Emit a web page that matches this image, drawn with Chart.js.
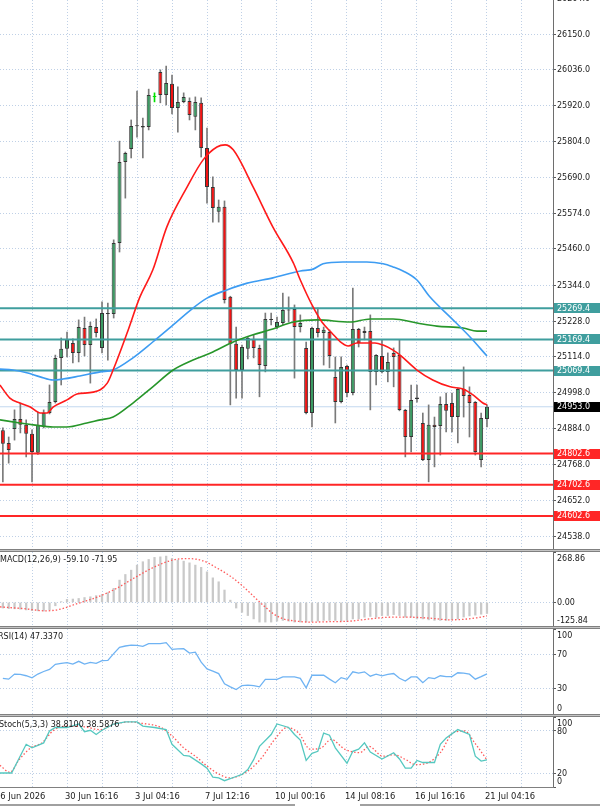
<!DOCTYPE html>
<html>
<head>
<meta charset="utf-8">
<script src="https://cdn.jsdelivr.net/npm/chart.js@4.4.1/dist/chart.umd.min.js"></script>
<style>
  html, body { margin: 0; padding: 0; background: #fff; }
  #wrap { position: relative; width: 600px; height: 807px; overflow: hidden; background: #fff; }
  #wrap canvas { position: absolute; left: 0; }
  .sep { position: absolute; left: 0; width: 600px; height: 1px; background: #c4c4c4;
         border-top: 1px solid #808080; border-bottom: 1px solid #808080; }
</style>
</head>
<body>
<div id="wrap">
  <canvas id="cMain" width="600" height="549" style="top:0"></canvas>
  <canvas id="cMacd" width="600" height="74" style="top:552px"></canvas>
  <canvas id="cRsi" width="600" height="85" style="top:629px"></canvas>
  <canvas id="cStoch" width="600" height="90" style="top:717px"></canvas>
  <div class="sep" style="top:549px"></div>
  <div class="sep" style="top:626px"></div>
  <div class="sep" style="top:714px"></div>
  <div style="position:absolute;left:0;top:787px;width:554px;height:1px;background:#808080"></div>
  <div style="position:absolute;left:0;top:804px;width:295px;height:2px;background:#a0a0a0"></div>
  <div style="position:absolute;left:360px;top:804px;width:240px;height:2px;background:#a0a0a0"></div>
</div>
<script>
/* Datos (velas, indicadores y niveles) */

// Velas: apertura, máximo, mínimo, cierre
const velaOpen = [24878, 24837, 24882, 24914, 24895, 24866, 24805, 24888, 24933, 24968,
  25110, 25139, 25158, 25126, 25206, 25151, 25209, 25142, 25254, 25251,
  25479, 25739, 25781, 25854, 25855, 25851, 25948, 26028, 25954, 25990,
  25912, 25932, 25935, 25884, 25929, 25784, 25659, 25579, 25595, 25306,
  25155, 25071, 25139, 25171, 25142, 25084, 25232, 25209, 25222, 25264,
  25267, 25209, 25142, 24933, 25206, 25190, 25193, 25049, 24968, 25084,
  24997, 25203, 25190, 25196, 25065, 25116, 25065, 25126, 25119, 24943,
  24856, 24978, 24901, 24782, 24895, 24891, 24962, 24965, 24920, 25010,
  24991, 24968, 24782, 24914];
const velaHigh = [24885, 24856, 24943, 24965, 24911, 24879, 24936, 24943, 25023, 25119,
  25174, 25193, 25171, 25232, 25241, 25225, 25235, 25290, 25286, 25489,
  25806, 25771, 25874, 25967, 25880, 25973, 25961, 26035, 26047, 26018,
  25980, 25961, 25945, 25948, 25945, 25848, 25691, 25617, 25614, 25308,
  25209, 25151, 25177, 25184, 25151, 25254, 25254, 25241, 25318, 25306,
  25280, 25248, 25161, 25209, 25270, 25209, 25200, 25113, 25113, 25087,
  25334, 25205, 25209, 25248, 25121, 25168, 25126, 25142, 25168, 24945,
  25023, 25023, 24933, 24959, 24920, 24985, 24997, 24997, 25013, 25081,
  25017, 24970, 24933, 24959];
const velaLow = [24712, 24772, 24846, 24869, 24792, 24712, 24800, 24885, 24930, 24965,
  25023, 25113, 25094, 25097, 25116, 25029, 25177, 25126, 25103, 25238,
  25450, 25623, 25752, 25819, 25752, 25842, 25932, 25929, 25922, 25893,
  25835, 25929, 25874, 25842, 25755, 25607, 25546, 25546, 25286, 24959,
  24981, 24981, 25107, 25110, 24985, 25065, 25216, 25203, 25216, 25225,
  25045, 25193, 24930, 24888, 25177, 25087, 25078, 24901, 24965, 24985,
  24991, 25145, 25168, 24943, 25023, 25062, 25033, 25017, 24940, 24792,
  24808, 24968, 24780, 24712, 24760, 24798, 24872, 24872, 24837, 24920,
  24856, 24798, 24760, 24888];
const velaClose = [24834, 24814, 24914, 24895, 24866, 24808, 24895, 24933, 24968, 25110,
  25139, 25168, 25126, 25209, 25151, 25212, 25190, 25254, 25251, 25479,
  25739, 25768, 25855, 25857, 25850, 25954, 25948, 25954, 25993, 25912,
  25932, 25948, 25890, 25932, 25784, 25659, 25591, 25595, 25296, 25155,
  25071, 25145, 25174, 25142, 25087, 25235, 25234, 25225, 25264, 25262,
  25209, 25222, 24933, 25206, 25190, 25200, 25116, 24968, 25081, 24997,
  25203, 25158, 25196, 25065, 25119, 25065, 25097, 25113, 24943, 24856,
  24975, 24983, 24782, 24895, 24888, 24962, 24940, 24920, 25010, 24988,
  24965, 24808, 24917, 24953];

// Medias móviles: pares [índice de vela, precio]
const mediaRapida = [[-0.5,25023],[1.2,24981],[2.9,24965],[4.7,24952],[6.4,24933],[7.6,24933],[8.6,24952],[11,24975],[12.7,24994],[15.5,25000],[17.9,25029],[18.9,25071],[21.3,25190],[23.5,25306],[25.7,25392],[28.1,25530],[31.6,25659],[34.3,25745],[36.7,25787],[38.1,25794],[39.5,25778],[42.9,25659],[46.3,25530],[49.8,25415],[51,25360],[53,25280],[54.7,25225],[56.4,25190],[58.1,25158],[59.2,25148],[60.7,25158],[63.8,25158],[65.2,25151],[66.9,25135],[68.1,25119],[71,25071],[73.7,25039],[76.7,25017],[78.9,25010],[80.6,24991],[82.3,24965],[83,24959]];
const mediaMedia = [[-0.5,24911],[2.9,24901],[5.2,24895],[8.6,24888],[11,24888],[14.4,24901],[16.7,24911],[18.9,24920],[22.3,24965],[25.7,25017],[29.2,25071],[32.6,25103],[36,25129],[39.5,25161],[42.9,25184],[45.8,25200],[49.8,25225],[53.9,25232],[59.5,25225],[63,25235],[66.9,25235],[71,25222],[74.4,25212],[78.9,25206],[81.3,25196],[83,25196]];
const mediaLenta = [[-0.5,25074],[1.7,25071],[4.1,25062],[6.4,25049],[8.6,25039],[10.3,25042],[13.2,25052],[16.7,25065],[18.9,25071],[22.3,25110],[25.7,25161],[29.2,25216],[32.6,25270],[35,25302],[38.4,25328],[41.9,25350],[46.3,25367],[51,25389],[53.2,25395],[54.9,25412],[58.3,25418],[62.4,25418],[65.2,25412],[66.9,25402],[68.6,25389],[71,25360],[73.2,25306],[76.7,25241],[80.1,25177],[83,25116]];

// Niveles horizontales
const nivelesResistencia = [25269.4, 25169.4, 25069.4];
const nivelesSoporte = [24802.6, 24702.6, 24602.6];
const precioActual = 24953.0;

// MACD (histograma por vela) y señal (pares)
const macdPrincipal = [-30, -33, -34, -36, -40, -44, -45, -46, -40, -18,
  4, 16, 18, 21, 26, 30, 36, 43, 52, 75,
  119, 149, 172, 199, 217, 229, 240, 243, 247, 235,
  226, 220, 211, 199, 187, 163, 131, 110, 66, 12,
  -30, -53, -70, -88, -105, -105, -105, -100, -96, -100,
  -105, -105, -105, -100, -100, -96, -96, -96, -100, -96,
  -88, -88, -79, -75, -79, -70, -70, -65, -70, -79,
  -79, -88, -88, -93, -96, -96, -96, -93, -88, -78,
  -72, -68, -63, -59.1];
const macdSenal = [[-0.5,-24],[3.5,-33],[7.4,-45],[10,-35],[12.6,-8],[15.9,25],[19.2,70],[22.5,130],[25.7,185],[29,225],[31.7,234],[34.3,222],[36.9,180],[39,140],[41.2,85],[42.9,35],[44.7,-17],[46.4,-61],[48.1,-88],[50.4,-100],[52.7,-105],[56,-103],[59.5,-100],[62.9,-88],[66.4,-79],[69.8,-79],[73.2,-84],[76.7,-93],[79,-90],[81.3,-82],[83,-72]];

// RSI(14) por vela
const rsiValores = [42, 41, 47, 46.5, 45, 42.5, 47, 50, 52.5, 58.5,
  59.5, 60.5, 58.8, 62, 58.8, 60.8, 59.6, 62.8, 63, 71,
  78.5, 80, 81, 80.8, 79.6, 82.8, 82.8, 82.8, 84, 76,
  76.5, 76.8, 71.6, 72.8, 61, 53, 50.5, 47.5, 35.6, 32,
  28.8, 33.5, 34, 33.5, 32, 40.8, 40.8, 40.8, 43.6, 43.6,
  43.6, 42, 30.8, 45.6, 45.6, 45.6, 41, 36.8, 42.8, 40.8,
  49.6, 48, 49.6, 44.5, 46.8, 44.8, 46.5, 47.6, 42, 38.8,
  43.6, 43.6, 36.8, 42.8, 41.6, 45, 44, 44, 48.5, 48,
  46.8, 41, 44, 47.3];

// Estocástico: pares [índice, valor]
const stochPrincipal = [[-0.5,20],[1.5,20],[4,61],[5,56],[7,63],[8,80],[9,85],[11,85],[13,90],[14,79],[15,81],[16,75],[17,81],[19,90],[21,93],[23,93],[24,87],[26,85],[28,82],[29,61],[31,45],[32,44],[34,33],[35,27],[36,14],[37,13],[38,9],[40,15],[41,18],[42,25],[43,39],[44,58],[46,75],[47,90],[49,85],[50,75],[51,67],[52,38],[53,48],[54,51],[55,77],[56,74],[57,56],[59,34],[60,51],[61,54],[62,63],[63,50],[65,40],[67,49],[68,40],[69,27],[70,27],[71,38],[72,35],[74,35],[75,61],[76,70],[78,82],[80,75],[81,44],[82,37],[83,38.81]];
const stochSenal = [[-0.5,31],[1.2,21],[2.8,39],[4.8,56],[6.7,63],[8.7,81],[11,87],[14,86],[16.6,82],[19.2,90],[21.8,93],[23.8,91],[27.1,85],[29,73],[31,56],[33,44],[35,30],[36.9,19],[38.9,13],[41.5,20],[44.1,39],[46.8,70],[48.7,85],[50.7,77],[52.7,54],[54.6,56],[56.3,68],[58.6,54],[61.2,49],[62.8,58],[65.1,44],[67.1,46],[69.1,39],[70.7,32],[73,35],[75,49],[77.3,78],[79.2,80],[80.9,63],[83,38.59]];

// Marcas de los ejes
const ticksPrecio = [24538, 24652, 24768, 24884, 24998, 25114, 25228, 25344, 25460, 25574, 25690, 25804, 25920, 26036, 26150, 26264];
const ticksMacd = [268.86, 0, -125.84];
const ticksRsi = [100, 70, 30, 0];
const ticksStoch = [100, 80, 20, 0];
const lineasGrillaX = [5, 11, 17, 23, 29, 35, 41, 47, 53, 59, 65, 71, 77, 83, 89];
const etiquetasTiempo = ['26 Jun 2026', '30 Jun 16:16', '3 Jul 04:16', '7 Jul 12:16', '10 Jul 00:16', '14 Jul 08:16', '16 Jul 16:16', '21 Jul 04:16'];
const posicionTiempo = [-1, 11, 23, 35, 47, 59, 71, 83];

/* Estilos comunes */
const FUENTE = '8px "DejaVu Sans"';
const GRILLA = '#bfd0e6';
const X_MIN = -0.49, X_MAX = 94.32;
const VERDE = '#3b9b63', ROJO = '#f21212', TEAL = '#3f9e9e', ROJO_NIVEL = '#ff2626';

// Eje X común (solo grilla punteada)
function ejeX() {
  return {
    type: 'linear', min: X_MIN, max: X_MAX, offset: false,
    grid: { color: GRILLA, lineWidth: 1, drawTicks: false, offset: false },
    border: { display: false, dash: [1, 2] },
    ticks: { display: false },
    afterBuildTicks: (s) => { s.ticks = lineasGrillaX.map(v => ({ value: v })); }
  };
}

// Eje Y a la derecha, 47 px de ancho
function ejeY(min, max, ticks, conGrilla) {
  return {
    type: 'linear', position: 'right', min: min, max: max,
    grid: {
      color: (c) => (conGrilla(c.tick && c.tick.value) ? GRILLA : 'rgba(0,0,0,0)'),
      lineWidth: 1, drawTicks: true, tickLength: 3, tickColor: '#5a5a5a', tickBorderDash: []
    },
    border: { display: true, color: '#6e6e6e', width: 1, dash: [1, 2] },
    ticks: { display: false },
    afterBuildTicks: (s) => { s.ticks = ticks.map(v => ({ value: v })); },
    afterFit: (s) => { s.width = 47; }
  };
}

// Plugin para textos: etiquetas de precio, títulos y fechas
const textos = {
  id: 'textos',
  afterDatasetsDraw(chart, args, o) {
    const ctx = chart.ctx, a = chart.chartArea, y = chart.scales.y, x = chart.scales.x;
    ctx.save();
    ctx.font = FUENTE;
    ctx.textBaseline = 'middle';
    ctx.textAlign = 'left';
    (o.etiquetas || []).forEach(l => {
      let py = y.getPixelForValue(l.value);
      if (o.limitar) py = Math.min(Math.max(py, a.top + 6), a.bottom - 5.5);
      if (l.bg) {
        ctx.fillStyle = l.bg;
        ctx.fillRect(a.right + 1, Math.round(py) - 5, 47, 10);
      }
      ctx.fillStyle = l.fg || '#1a1a1a';
      ctx.fillText(l.text, a.right + 4, py + 0.5);
    });
    if (o.titulo) {
      ctx.fillStyle = '#1a1a1a';
      ctx.fillText(o.titulo, o.tituloX, a.top + o.tituloY);
    }
    if (o.fechas) {
      ctx.font = '8.4px "DejaVu Sans"';
      ctx.fillStyle = '#1a1a1a';
      posicionTiempo.forEach((p, k) => {
        ctx.fillText(etiquetasTiempo[k], x.getPixelForValue(p) - 2, a.bottom + 9.5);
      });
    }
    ctx.restore();
  }
};

function lineaNivel(v, color, ancho, orden) {
  return {
    type: 'line', data: [{ x: -1, y: v }, { x: 95, y: v }],
    borderColor: color, borderWidth: ancho, pointRadius: 0, order: orden
  };
}

function lineaPares(pares, color, ancho, dash, orden) {
  return {
    type: 'line', data: pares.map(p => ({ x: p[0], y: p[1] })),
    borderColor: color, borderWidth: ancho, borderDash: dash, pointRadius: 0,
    cubicInterpolationMode: 'monotone', order: orden
  };
}

const opcionesBase = { responsive: false, animation: false, events: [],
  plugins: { legend: { display: false }, tooltip: { enabled: false } } };

/* Gráfico principal de velas */
const colorCuerpo = velaOpen.map((o, i) => velaClose[i] > o ? VERDE : (velaClose[i] < o ? ROJO : '#00e000'));
const colorMecha = velaOpen.map((o, i) => velaClose[i] === o ? '#00e000' : '#7a7a7a');

const etiquetasPrecio = ticksPrecio.map(v => ({ value: v, text: v.toFixed(1) }))
  .concat(nivelesResistencia.map(v => ({ value: v, text: v.toFixed(1), bg: TEAL, fg: '#fff' })))
  .concat(nivelesSoporte.map(v => ({ value: v, text: v.toFixed(1), bg: ROJO_NIVEL, fg: '#fff' })))
  .concat([{ value: precioActual, text: precioActual.toFixed(1), bg: '#000', fg: '#fff' }]);

new Chart(document.getElementById('cMain'), {
  type: 'line',
  data: {
    datasets: [
      lineaNivel(precioActual, '#c3d8ef', 1, 20),
      {
        type: 'bar', data: velaOpen.map((o, i) => ({ x: i, y: [velaLow[i], velaHigh[i]] })),
        backgroundColor: colorMecha, barThickness: 1, grouped: false, order: 12
      },
      {
        type: 'bar', data: velaOpen.map((o, i) => ({ x: i, y: [Math.min(o, velaClose[i]), Math.max(o, velaClose[i])] })),
        backgroundColor: colorCuerpo,
        borderColor: colorCuerpo.map(c => c === '#00e000' ? '#00e000' : '#353535'),
        borderWidth: 1, borderSkipped: false, barThickness: 4, minBarLength: 1,
        inflateAmount: 0, grouped: false, order: 11
      },
      ...nivelesResistencia.map(v => lineaNivel(v, TEAL, 2, 3)),
      ...nivelesSoporte.map(v => lineaNivel(v, ROJO_NIVEL, 2, 3)),
      lineaPares(mediaLenta, '#3d9cf2', 1.6, [], 2),
      lineaPares(mediaMedia, '#27962a', 1.6, [], 2),
      lineaPares(mediaRapida, '#ff1a1a', 1.6, [], 1)
    ]
  },
  options: Object.assign({}, opcionesBase, {
    layout: { padding: 0 },
    scales: { x: ejeX(), y: ejeY(24496.3, 26259.2, ticksPrecio, () => true) },
    plugins: Object.assign({}, opcionesBase.plugins, { textos: { etiquetas: etiquetasPrecio } })
  }),
  plugins: [textos]
});

/* MACD */
new Chart(document.getElementById('cMacd'), {
  type: 'line',
  data: {
    datasets: [
      {
        type: 'bar', data: macdPrincipal.map((v, i) => ({ x: i, y: v })),
        backgroundColor: '#c9c9c9', barThickness: 1.6, grouped: false, order: 5
      },
      lineaPares(macdSenal, '#ff5a5a', 1.3, [1.5, 2], 1)
    ]
  },
  options: Object.assign({}, opcionesBase, {
    scales: { x: ejeX(), y: ejeY(-125.84, 268.86, ticksMacd, v => v === 0) },
    plugins: Object.assign({}, opcionesBase.plugins, {
      textos: {
        etiquetas: ticksMacd.map(v => ({ value: v, text: v.toFixed(2) })), limitar: true,
        titulo: 'MACD(12,26,9) -59.10 -71.95', tituloX: 0, tituloY: 8
      }
    })
  }),
  plugins: [textos]
});

/* RSI */
new Chart(document.getElementById('cRsi'), {
  type: 'line',
  data: {
    datasets: [{
      type: 'line', data: rsiValores.map((v, i) => ({ x: i, y: v })),
      borderColor: '#6fb3f3', borderWidth: 1.3, pointRadius: 0, tension: 0
    }]
  },
  options: Object.assign({}, opcionesBase, {
    scales: { x: ejeX(), y: ejeY(0, 100, ticksRsi, v => v === 70 || v === 30) },
    plugins: Object.assign({}, opcionesBase.plugins, {
      textos: {
        etiquetas: ticksRsi.map(v => ({ value: v, text: String(v) })), limitar: true,
        titulo: 'RSI(14) 47.3370', tituloX: -2, tituloY: 8
      }
    })
  }),
  plugins: [textos]
});

/* Estocástico + fechas */
new Chart(document.getElementById('cStoch'), {
  type: 'line',
  data: {
    datasets: [
      lineaPares(stochSenal, '#ff5a5a', 1.3, [1.5, 2], 2),
      Object.assign(lineaPares(stochPrincipal, '#55c8c0', 1.3, [], 1), { cubicInterpolationMode: 'default', tension: 0 })
    ]
  },
  options: Object.assign({}, opcionesBase, {
    layout: { padding: { bottom: 20 } },
    scales: { x: ejeX(), y: ejeY(0, 100, ticksStoch, v => v === 80 || v === 20) },
    plugins: Object.assign({}, opcionesBase.plugins, {
      textos: {
        etiquetas: ticksStoch.map(v => ({ value: v, text: String(v) })), limitar: true,
        titulo: 'Stoch(5,3,3) 38.8100 38.5876', tituloX: -1, tituloY: 8, fechas: true
      }
    })
  }),
  plugins: [textos]
});
</script>
</body>
</html>
